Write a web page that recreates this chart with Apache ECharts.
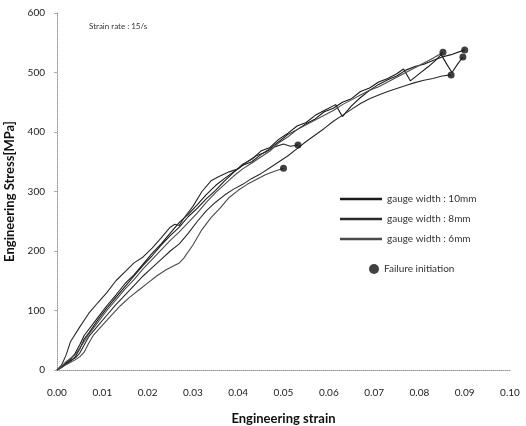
<!DOCTYPE html>
<html lang="en">
<head>
    <meta charset="UTF-8">
    <script type="text/javascript" src="https://cdn.jsdelivr.net/npm/echarts@6/dist/echarts.min.js"></script>
    <title>Engineering stress - strain</title>
    <style>
        html, body { margin: 0; padding: 0; background: #fff; }
    </style>
</head>
<body>
<div id="stressChart" style="width: 526px;height:426px;"></div>
<script type="text/javascript">
    // curves: [strain, stress MPa]
    var w10a = [[0,0],[0.001,5],[0.002,12],[0.003,18],[0.004,28],[0.005,42],[0.006,58],[0.007,68],[0.009,88],[0.011,108],[0.013,126],[0.015,145],[0.017,160],[0.019,178],[0.021,196],[0.023,212],[0.025,230],[0.027,248],[0.029,262],[0.031,278],[0.033,295],[0.035,310],[0.037,322],[0.039,333],[0.041,344],[0.043,350],[0.045,362],[0.047,372],[0.049,384],[0.051,396],[0.053,404],[0.055,414],[0.057,422],[0.059,434],[0.061,440],[0.063,450],[0.065,456],[0.067,468],[0.069,474],[0.071,484],[0.073,490],[0.075,498],[0.0765,506],[0.078,486],[0.080,498],[0.082,510],[0.0835,520],[0.0848,530],[0.0862,512],[0.0872,500],[0.0885,515],[0.0896,526]];
    var w10b = [[0,0],[0.001,4],[0.002,10],[0.003,15],[0.004,22],[0.005,35],[0.006,52],[0.007,62],[0.009,84],[0.011,104],[0.013,122],[0.015,140],[0.017,158],[0.019,176],[0.021,192],[0.023,210],[0.025,226],[0.027,240],[0.029,258],[0.031,272],[0.033,288],[0.035,302],[0.037,318],[0.039,332],[0.041,346],[0.043,354],[0.045,368],[0.047,374],[0.049,388],[0.051,398],[0.053,410],[0.055,416],[0.057,428],[0.059,436],[0.0615,446],[0.063,426],[0.065,444],[0.067,458],[0.069,470],[0.071,480],[0.073,488],[0.075,494],[0.077,504],[0.079,510],[0.081,514],[0.083,520],[0.085,526],[0.087,530],[0.090,538]];
    var w8a = [[0,0],[0.001,8],[0.002,25],[0.003,48],[0.005,72],[0.007,95],[0.009,113],[0.011,130],[0.013,150],[0.015,165],[0.017,180],[0.019,190],[0.021,205],[0.023,222],[0.025,240],[0.026,245],[0.027,243],[0.028,255],[0.030,275],[0.032,300],[0.034,318],[0.036,326],[0.038,333],[0.040,338],[0.042,350],[0.044,360],[0.046,366],[0.048,375],[0.050,380],[0.0515,376],[0.0532,378]];
    var w8b = [[0,0],[0.001,5],[0.002,11],[0.003,16],[0.004,20],[0.005,28],[0.006,42],[0.007,56],[0.009,74],[0.011,92],[0.013,110],[0.015,126],[0.017,142],[0.019,158],[0.021,172],[0.023,186],[0.025,200],[0.027,212],[0.029,230],[0.031,250],[0.033,268],[0.035,282],[0.037,294],[0.039,304],[0.041,312],[0.043,322],[0.045,330],[0.047,340],[0.049,350],[0.051,360],[0.053,372],[0.055,384],[0.057,395],[0.059,406],[0.061,418],[0.063,428],[0.065,438],[0.067,448],[0.069,456],[0.071,462],[0.073,468],[0.075,473],[0.077,478],[0.079,483],[0.081,487],[0.083,490],[0.085,494],[0.087,496]];
    var w6a = [[0,0],[0.001,4],[0.002,9],[0.003,13],[0.004,17],[0.005,22],[0.006,30],[0.007,45],[0.008,58],[0.010,75],[0.012,92],[0.014,108],[0.016,122],[0.018,134],[0.020,146],[0.022,158],[0.024,168],[0.026,176],[0.027,180],[0.028,188],[0.030,210],[0.032,236],[0.034,256],[0.036,272],[0.038,290],[0.040,302],[0.042,312],[0.044,320],[0.046,328],[0.048,334],[0.050,339]];
    var w6b = [[0,0],[0.001,6],[0.002,14],[0.003,20],[0.004,26],[0.005,36],[0.006,48],[0.007,60],[0.009,80],[0.011,100],[0.013,118],[0.015,136],[0.017,152],[0.019,170],[0.021,186],[0.023,202],[0.025,218],[0.027,232],[0.029,248],[0.031,264],[0.033,282],[0.035,298],[0.037,312],[0.039,326],[0.041,338],[0.043,348],[0.045,358],[0.047,368],[0.049,382],[0.051,392],[0.053,404],[0.055,412],[0.057,420],[0.059,428],[0.061,436],[0.063,446],[0.065,454],[0.067,462],[0.069,470],[0.071,476],[0.073,484],[0.075,492],[0.077,500],[0.079,508],[0.081,516],[0.083,524],[0.0852,534]];
    // failure initiation points
    var failurePts = [[0.0896,526],[0.090,538],[0.0532,378],[0.087,496],[0.050,339],[0.0852,534]];

    var names = ['gauge width : 10mm', 'gauge width : 8mm', 'gauge width : 6mm'];
    var colors = ['#1a1a1a', '#2a2a2a', '#4a4a4a'];
    var font = 'Lato, "Open Sans", sans-serif';

    var stressChart = echarts.init(document.getElementById('stressChart'));

    function curve(name, color, data) {
        return {
            name: name,
            type: 'line',
            data: data,
            showSymbol: false,
            lineStyle: { color: color, width: 1.1 },
            itemStyle: { color: color },
            z: 2
        };
    }

    stressChart.setOption({
        animation: false,
        grid: { left: 57, right: 16, top: 13, bottom: 56, outerBoundsMode: 'none' },
        graphic: [{
            type: 'text',
            left: 89,
            top: 22,
            style: { text: 'Strain rate : 15/s', fontSize: 8, fill: '#333', fontFamily: font }
        }],
        legend: [{
            data: names,
            orient: 'vertical',
            left: 335,
            top: 189,
            icon: 'rect',
            itemWidth: 42,
            itemHeight: 2.5,
            itemGap: 10,
            textStyle: { fontSize: 10, color: '#333', fontFamily: font }
        }, {
            data: ['Failure initiation'],
            left: 364,
            top: 259,
            icon: 'circle',
            itemWidth: 10,
            itemHeight: 10,
            itemGap: 5,
            textStyle: { fontSize: 10, color: '#333', fontFamily: font }
        }],
        xAxis: {
            type: 'value',
            min: 0,
            max: 0.1,
            interval: 0.01,
            name: 'Engineering strain',
            nameLocation: 'middle',
            nameGap: 42,
            nameTextStyle: { fontSize: 13, fontWeight: 'bold', color: '#111', fontFamily: font },
            axisLine: { lineStyle: { color: '#999', type: 'dotted', width: 1 } },
            axisTick: { show: false },
            splitLine: { show: false },
            axisLabel: {
                margin: 18,
                fontSize: 10,
                color: '#222',
                fontFamily: font,
                formatter: function (v) { return v.toFixed(2); }
            }
        },
        yAxis: {
            type: 'value',
            min: 0,
            max: 600,
            interval: 100,
            name: 'Engineering Stress[MPa]',
            nameLocation: 'middle',
            nameGap: 37,
            nameTextStyle: { fontSize: 13, fontWeight: 'bold', color: '#111', fontFamily: font },
            axisLine: { show: true, lineStyle: { color: '#999', type: 'dotted', width: 1 } },
            axisTick: { show: true, length: 3, lineStyle: { color: '#aaa' } },
            splitLine: { show: false },
            axisLabel: { margin: 12, fontSize: 10, color: '#222', fontFamily: font }
        },
        series: [
            curve(names[0], colors[0], w10a),
            curve(names[0], colors[0], w10b),
            curve(names[1], colors[1], w8a),
            curve(names[1], colors[1], w8b),
            curve(names[2], colors[2], w6a),
            curve(names[2], colors[2], w6b),
            {
                name: 'Failure initiation',
                type: 'scatter',
                data: failurePts,
                symbol: 'circle',
                symbolSize: 7,
                itemStyle: { color: '#111' },
                z: 3
            }
        ]
    });
</script>
</body>
</html>
